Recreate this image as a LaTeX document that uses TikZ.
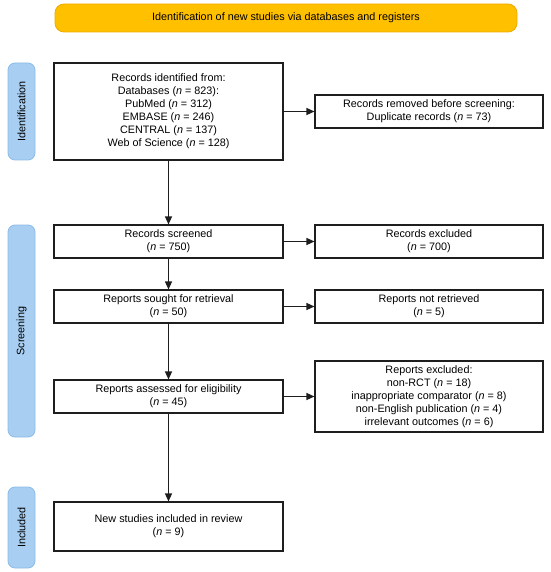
\documentclass[tikz,border=0pt]{standalone}
\usepackage{fontspec}
\setmainfont{Liberation Sans}
\usetikzlibrary{arrows.meta}
\definecolor{barfill}{HTML}{FFC000}
\definecolor{barline}{HTML}{F2A900}
\definecolor{sidefill}{HTML}{A8CEF2}
\definecolor{sideline}{HTML}{8DBBE8}
\definecolor{ink}{HTML}{1E1E1E}
\newcommand{\nn}{\textit{n}}
\begin{document}
\begin{tikzpicture}[x=1pt,y=-1pt,
  every node/.style={font=\fontsize{10.8}{13}\selectfont, text=black},
  stepbox/.style={draw=ink, line width=1.1pt, fill=white, rectangle, align=center, inner sep=0pt},
  mainbox/.style={stepbox, minimum width=229pt},
  sidebox/.style={stepbox, minimum width=228pt},
  phase/.style={draw=sideline, fill=sidefill, rounded corners=7pt, line width=0.8pt, minimum width=27pt, inner sep=0pt},
  conn/.style={draw=ink, line width=1.3pt, -{Triangle[length=8pt,width=7pt]}}
]
\useasboundingbox (0,0) rectangle (550,572);
\node[draw=barline, fill=barfill, rounded corners=9pt, line width=0.8pt, minimum width=462pt, minimum height=28pt, inner sep=0pt] (top) at (286,18) {Identification of new studies via databases and registers};

\node[phase, minimum height=97pt] (pid) at (21.5,111.5) {};
\node[rotate=90] at (pid.center) {Identification};
\node[phase, minimum height=212pt] (psc) at (21.5,331) {};
\node[rotate=90] at (psc.center) {Screening};
\node[phase, minimum height=81pt] (pin) at (21.5,527.5) {};
\node[rotate=90] at (pin.center) {Included};

\node[mainbox, minimum height=97pt] (rec) at (168.5,111.5) {Records identified from:\\Databases (\nn{} = 823):\\PubMed (\nn{} = 312)\\EMBASE (\nn{} = 246)\\CENTRAL (\nn{} = 137)\\Web of Science (\nn{} = 128)};
\node[sidebox, minimum height=33pt] (rem) at (429,111.5) {Records removed before screening:\\Duplicate records (\nn{} = 73)};
\node[mainbox, minimum height=33pt] (scr) at (168.5,241.5) {Records screened\\(\nn{} = 750)};
\node[sidebox, minimum height=33pt] (exc) at (429,241.5) {Records excluded\\(\nn{} = 700)};
\node[mainbox, minimum height=33pt] (sou) at (168.5,306.5) {Reports sought for retrieval\\(\nn{} = 50)};
\node[sidebox, minimum height=33pt] (ret) at (429,306.5) {Reports not retrieved\\(\nn{} = 5)};
\node[mainbox, minimum height=33pt] (ass) at (168.5,396.5) {Reports assessed for eligibility\\(\nn{} = 45)};
\node[sidebox, minimum height=71pt] (rex) at (429,396.5) {Reports excluded:\\non-RCT (\nn{} = 18)\\inappropriate comparator (\nn{} = 8)\\non-English publication (\nn{} = 4)\\irrelevant outcomes (\nn{} = 6)};
\node[mainbox, minimum height=49pt] (inc) at (168.5,526.5) {New studies included in review\\(\nn{} = 9)};

\draw[conn] (rec) -- (rem);
\draw[conn] (rec) -- (scr);
\draw[conn] (scr) -- (exc);
\draw[conn] (scr) -- (sou);
\draw[conn] (sou) -- (ret);
\draw[conn] (sou) -- (ass);
\draw[conn] (ass) -- (rex);
\draw[conn] (ass) -- (inc);
\end{tikzpicture}
\end{document}
